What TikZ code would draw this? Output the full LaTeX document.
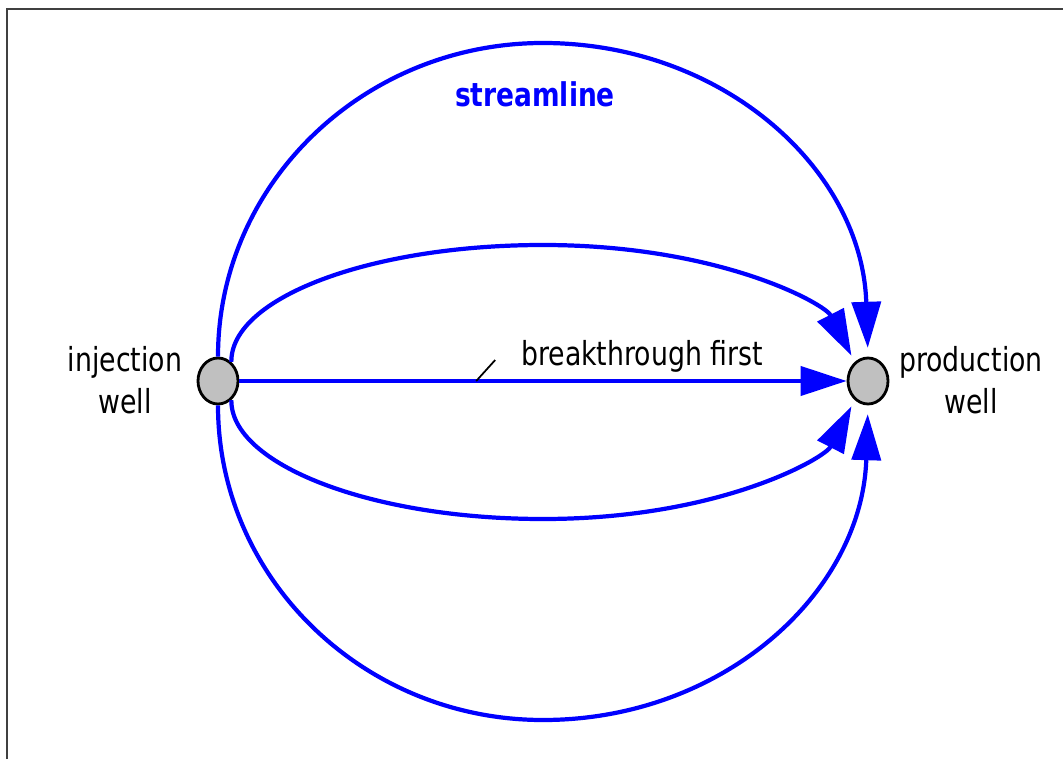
\documentclass[tikz,border=0pt]{standalone}
\usepackage{fontspec}
\setmainfont{DejaVu Sans}[FakeStretch=0.81]
\usepackage{tikz}
\usetikzlibrary{arrows.meta,shapes.geometric,calc}
\definecolor{SLBlue}{RGB}{0,0,255}
\definecolor{WellGray}{RGB}{192,192,192}

\begin{document}
\begin{tikzpicture}[font=\fontsize{9.4}{12}\selectfont,
  well/.style={ellipse,draw=black,line width=0.8pt,fill=WellGray,minimum width=0.4cm,minimum height=0.46cm,inner sep=0pt},
  sl/.style={draw=SLBlue,line width=1.2pt,-{Triangle[length=4.6mm,width=2.9mm]}},
  lbl/.style={align=center,inner sep=0pt}]
\useasboundingbox (0,0) rectangle (10.63,7.59);
% frame
\draw[black!75,line width=0.6pt] (0.07,0) |- (10.63,7.50);
% wells
\node[well] (inj) at (2.18,3.78) {};
\node[well] (prod) at (8.68,3.78) {};
\node[lbl] (injlbl) at (1.25,3.79) {injection\\well};
\node[lbl] (prodlbl) at (9.71,3.79) {production\\well};
% streamlines
\draw[sl] (inj.east) -- (prod.west);
\draw[sl,shorten >=2.5pt] (inj.north) .. controls (2.18,5.75) and (3.635,7.16) .. (5.43,7.16)
  .. controls (7.225,7.16) and (8.62,5.9) .. (prod.north);
\draw[sl,shorten >=2.5pt] (inj.south) .. controls (2.18,1.805) and (3.635,0.39) .. (5.43,0.39)
  .. controls (7.225,0.39) and (8.62,1.66) .. (prod.south);
\draw[sl,shorten >=2pt] (inj.55) .. controls (2.305,4.61) and (3.70,5.14) .. (5.43,5.14)
  .. controls (7.2,5.14) and (8.25,4.55) .. (prod.125);
\draw[sl,shorten >=2pt] (inj.-55) .. controls (2.305,2.95) and (3.70,2.40) .. (5.43,2.40)
  .. controls (7.2,2.40) and (8.25,3.01) .. (prod.-125);
% labels
\node[anchor=base,text=SLBlue,font=\fontsize{9.3}{12}\selectfont\bfseries] (sltitle) at (5.35,6.52) {streamline};
\node[anchor=base] (btlbl) at (6.42,3.93) {breakthrough first};
\path (inj.east) -- (prod.west) coordinate[pos=0.39] (tk);
\draw[line width=0.5pt] (tk) -- ++(0.19,0.21);
\end{tikzpicture}
\end{document}
